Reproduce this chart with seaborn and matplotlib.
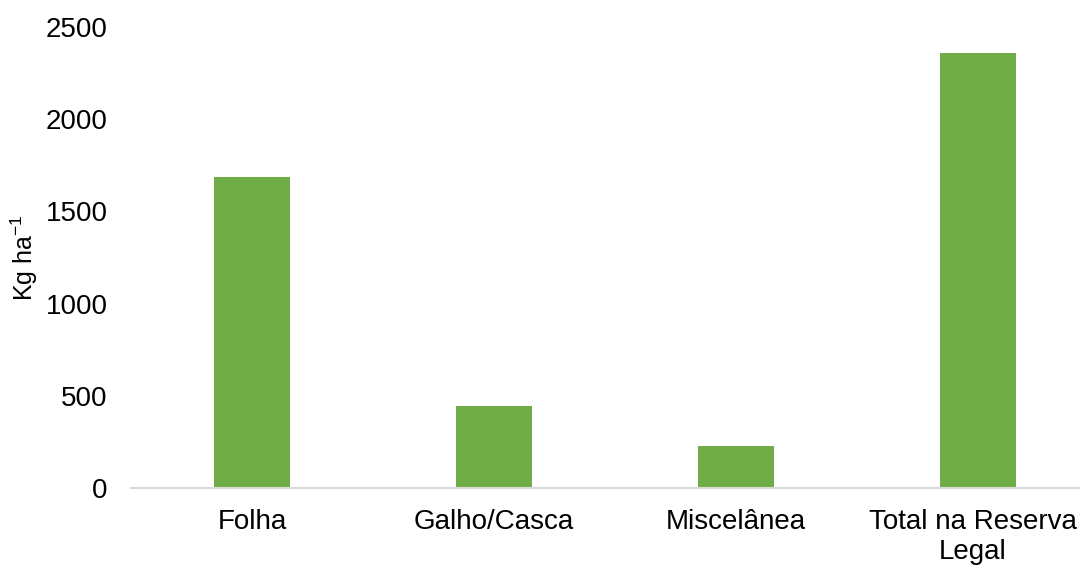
import matplotlib
matplotlib.use("Agg")
import matplotlib.pyplot as plt
import matplotlib.transforms as mtransforms
import seaborn as sns
import pandas as pd

# Litter fractions (kg per hectare)
categorias = ["Folha", "Galho/Casca", "Miscelânea", "Total na Reserva\nLegal"]
valores = [1685, 445, 230, 2360]
y_ticks = [0, 500, 1000, 1500, 2000, 2500]

df = pd.DataFrame({"categoria": categorias, "kg_ha": valores})

sns.set_theme(style="white")
plt.rcParams["font.family"] = ["Liberation Sans", "DejaVu Sans"]

fig = plt.figure(figsize=(10.8, 5.66), dpi=100)
ax = fig.add_axes([0.1213, 0.1378, 0.8963, 0.8145])

sns.barplot(data=df, x="categoria", y="kg_ha", color="#70AD47",
            saturation=1, width=0.314, edgecolor="none", ax=ax)

ax.set_xlim(-0.5, 3.5)
ax.set_ylim(0, 2500)
ax.set_yticks(y_ticks)
ax.set_yticklabels([str(t) for t in y_ticks])

for side in ["top", "right", "left"]:
    ax.spines[side].set_visible(False)
ax.spines["bottom"].set_color("#D9D9D9")
ax.spines["bottom"].set_linewidth(1.5)

ax.tick_params(axis="y", length=0, pad=17, labelsize=20, labelcolor="#000000")
ax.tick_params(axis="x", length=0, pad=15, labelsize=20, labelcolor="#000000")
xlabels = ax.get_xticklabels()
for lbl in xlabels:
    lbl.set_linespacing(1.2)
# keep the wide last label inside the canvas
shift = mtransforms.ScaledTranslation(-5 / 100, 0, fig.dpi_scale_trans)
xlabels[-1].set_transform(xlabels[-1].get_transform() + shift)

ax.set_xlabel("")
ax.set_ylabel("Kg ha$^{\\mathregular{-1}}$", fontsize=18, color="#000000", labelpad=4)

fig.savefig("out.png", dpi=100)
